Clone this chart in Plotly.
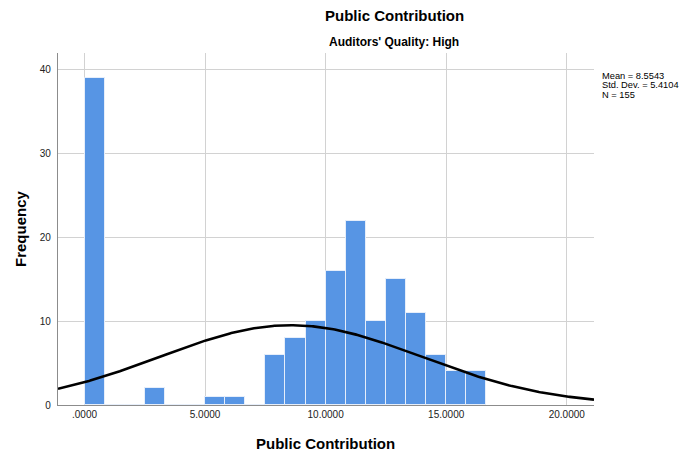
import numpy as np
import plotly.graph_objects as go

# Histogram of Public Contribution (Auditors' Quality: High)
bin_start = 0.0
bin_width = 5.0 / 6.0
counts = [39, 0, 0, 2, 0, 0, 1, 1, 0, 6, 8, 10, 16, 22, 10, 15, 11, 6, 4, 4]

mean_val = 8.5543
std_val = 5.4104
n_val = 155

x_tick_vals = [0, 5, 10, 15, 20]
x_tick_text = [".0000", "5.0000", "10.0000", "15.0000", "20.0000"]
y_tick_vals = [0, 10, 20, 30, 40]

x_range = [-1.1, 21.13]
y_range = [0, 42]

centers = [bin_start + (i + 0.5) * bin_width for i in range(len(counts))]

# Normal curve scaled to the histogram counts
xs = np.linspace(x_range[0], x_range[1], 400)
ys = n_val * bin_width / (std_val * np.sqrt(2 * np.pi)) * np.exp(-0.5 * ((xs - mean_val) / std_val) ** 2)

FONT = "Liberation Sans, Arial, sans-serif"

fig = go.Figure()
fig.add_trace(go.Bar(
    x=centers, y=counts, width=bin_width,
    marker=dict(color="#5795E4", line=dict(color="#E6EEFA", width=1)),
    hoverinfo="x+y", showlegend=False,
))
fig.add_trace(go.Scatter(
    x=xs, y=ys, mode="lines",
    line=dict(color="#000000", width=2.6),
    showlegend=False, hoverinfo="skip",
))

stats_lines = [f"Mean = {mean_val}", f"Std. Dev. = {std_val}", f"N = {n_val}"]
stats_ann = [
    dict(text=t, xref="paper", yref="paper",
         x=1 + (600 - 594) / 536, y=1 - (76 + 9.5 * i - 53) / 352,
         xanchor="left", yanchor="middle", showarrow=False,
         font=dict(family=FONT, size=9.3, color="#000000"))
    for i, t in enumerate(stats_lines)
]

fig.update_layout(
    width=685, height=456,
    margin=dict(l=58, r=91, t=53, b=51),
    paper_bgcolor="white", plot_bgcolor="white",
    bargap=0,
    font=dict(family=FONT, size=10, color="#222222"),
    xaxis=dict(
        range=x_range, tickvals=x_tick_vals, ticktext=x_tick_text,
        showgrid=True, gridcolor="#D2D2D2", gridwidth=1,
        zeroline=False, showline=True, linecolor="#8C8C8C", linewidth=1.3,
        ticks="", tickfont=dict(size=10, color="#222222"),
    ),
    yaxis=dict(
        range=y_range, tickvals=y_tick_vals,
        showgrid=True, gridcolor="#D2D2D2", gridwidth=1,
        zeroline=False, showline=True, linecolor="#8C8C8C", linewidth=1.3,
        ticks="", tickfont=dict(size=10, color="#222222"), ticklabelstandoff=4,
    ),
    annotations=[
        dict(text="<b>Public Contribution</b>", xref="paper", yref="paper",
             x=0.6277, y=1 + (53 - 16) / 352, xanchor="center", yanchor="middle",
             showarrow=False, font=dict(family=FONT, size=15, color="#000000")),
        dict(text="<b>Auditors' Quality: High</b>", xref="paper", yref="paper",
             x=0.6277, y=1 + (53 - 42) / 352, xanchor="center", yanchor="middle",
             showarrow=False, font=dict(family=FONT, size=12, color="#000000")),
        dict(text="<b>Public Contribution</b>", xref="paper", yref="paper",
             x=(325.5 - 58) / 536, y=-(443 - 405) / 352, xanchor="center", yanchor="middle",
             showarrow=False, font=dict(family=FONT, size=15, color="#000000")),
        dict(text="<b>Frequency</b>", xref="paper", yref="paper",
             x=-(58 - 20) / 536, y=0.5, xanchor="center", yanchor="middle", textangle=-90,
             showarrow=False, font=dict(family=FONT, size=15, color="#000000")),
    ] + stats_ann,
)

fig.write_html("out.html")
